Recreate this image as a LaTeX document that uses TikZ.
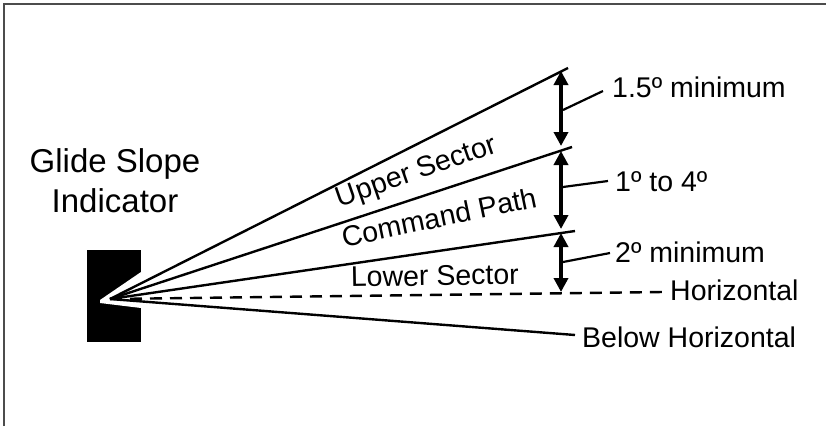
\documentclass[tikz,border=0pt]{standalone}
\usepackage{fontspec}
\setmainfont{Liberation Sans}
\usetikzlibrary{arrows.meta}
\begin{document}
\begin{tikzpicture}[x=1pt,y=-1pt,
  ray/.style={line width=2.4pt,black},
  dim/.style={line width=4pt,{Triangle[width=14pt,length=14pt]}-{Triangle[width=14pt,length=14pt]}},
  leader/.style={line width=2.2pt},
  lbl/.style={font=\fontsize{28.5}{34}\selectfont,inner sep=0pt},
  title/.style={font=\fontsize{33}{40}\selectfont,inner sep=0pt,align=center}]
\useasboundingbox (0,0) rectangle (826,426);
\fill[white] (0,0) rectangle (826,426);
% frame
\draw[line width=2pt,black!70] (4,426) -- (4,4) -- (826,4);
% indicator box
\fill[black] (87,250) rectangle (141,342);
\fill[white] (141,272) -- (100,300) -- (100,303) -- (141,308) -- cycle;
\coordinate (A) at (110,299);
\coordinate (T1) at (568,68);
\coordinate (T2) at (572,147);
\coordinate (T3) at (575,231);
\coordinate (T4) at (663,292);
\coordinate (T5) at (575,335);
\draw[ray] (A) -- (T1);
\draw[ray] (A) -- (T2);
\draw[ray] (A) -- (T3);
\draw[ray,dash pattern=on 12pt off 8pt] (A) -- (T4);
\draw[ray] (A) -- (T5);
% title
\node[title] (ttl) at (115,181) {Glide Slope\\Indicator};
% sector labels
\node[lbl,anchor=base,rotate=19.2] (us) at (419,179.5) {Upper Sector};
\node[lbl,anchor=base,rotate=11.8] (cp) at (441,227) {Command Path};
\node[lbl,anchor=base,rotate=1] (ls) at (435,285.5) {Lower Sector};
% dimension arrows
\coordinate (a1t) at (561,71);
\coordinate (a1b) at (561,146);
\coordinate (a2t) at (561,151);
\coordinate (a2b) at (561,229);
\coordinate (a3t) at (561,233);
\coordinate (a3b) at (561,292);
\draw[dim] (a1t) -- (a1b);
\draw[dim] (a2t) -- (a2b);
\draw[dim] (a3t) -- (a3b);
% labels with leaders
\node[lbl,anchor=base west] (l1) at (612,97) {1.5º minimum};
\node[lbl,anchor=base west] (l2) at (615,191) {1º to 4º};
\node[lbl,anchor=base west] (l3) at (615,262) {2º minimum};
\node[lbl,anchor=base west] (l4) at (670,300) {Horizontal};
\node[lbl,anchor=base west] (l5) at (582,347) {Below Horizontal};
\coordinate (k1a) at (563,110); \coordinate (k1b) at (603,91);
\coordinate (k2a) at (563,187); \coordinate (k2b) at (608,181);
\coordinate (k3a) at (563,262); \coordinate (k3b) at (610,253);
\draw[leader] (k1a) -- (k1b);
\draw[leader] (k2a) -- (k2b);
\draw[leader] (k3a) -- (k3b);
\end{tikzpicture}
\end{document}
